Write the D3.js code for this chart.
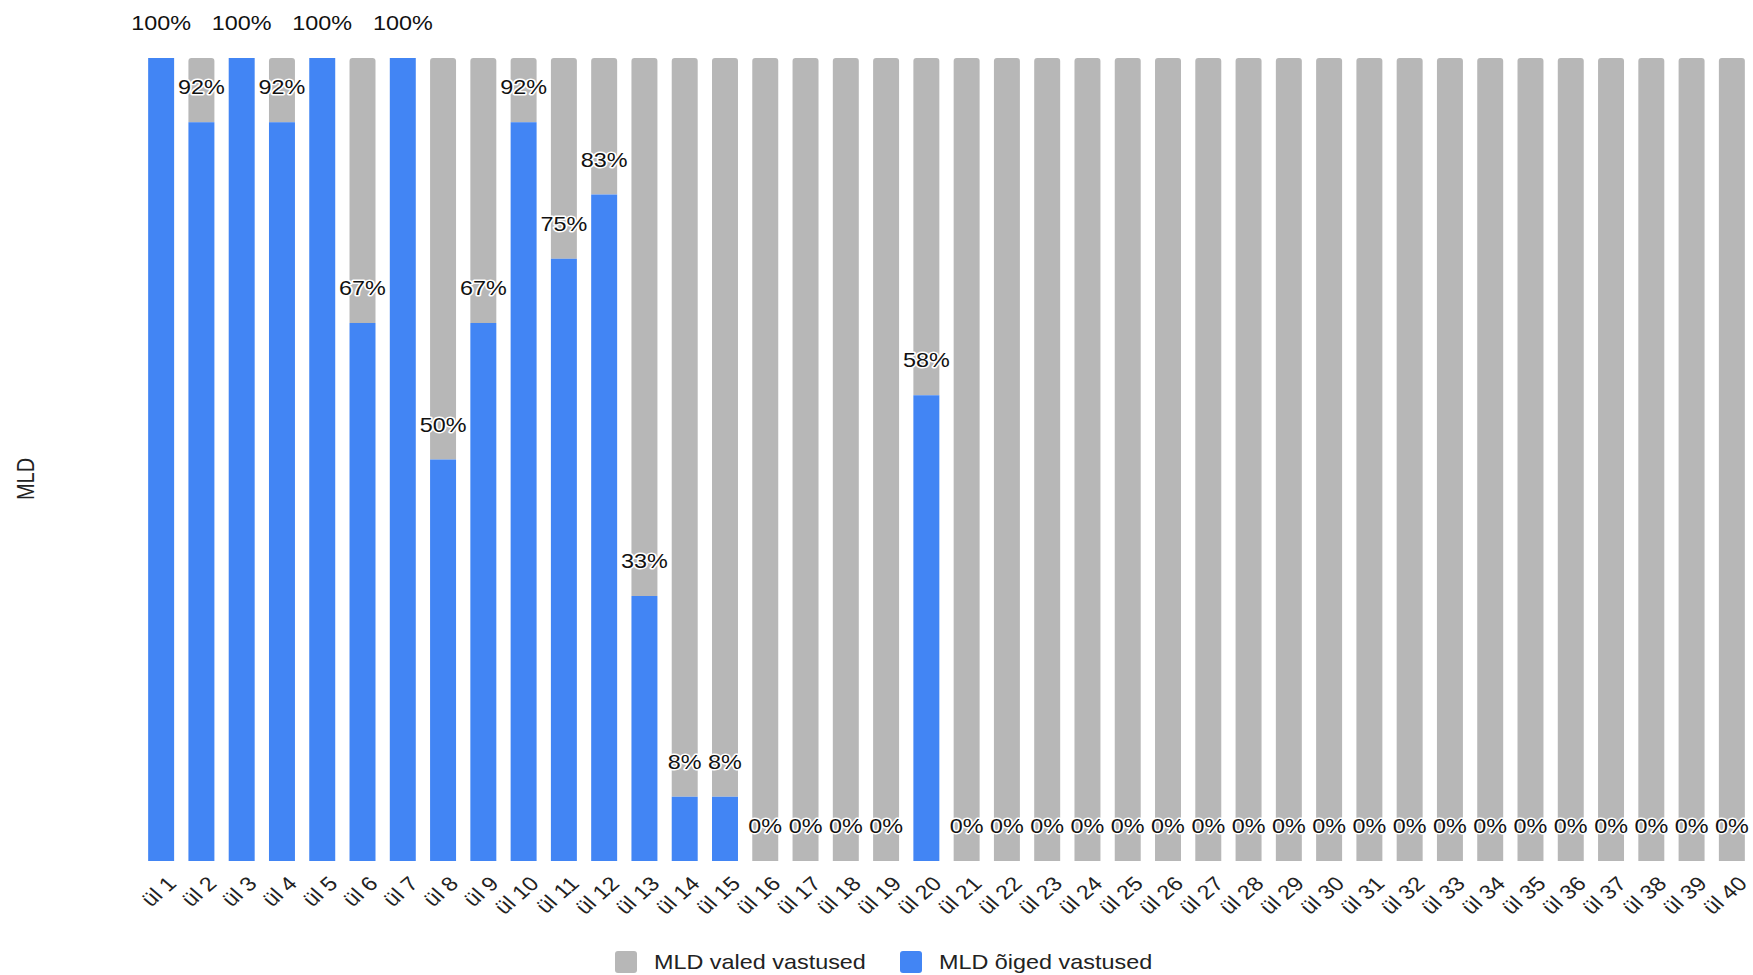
<!DOCTYPE html>
<html>
<head>
<meta charset="utf-8">
<script src="https://cdn.jsdelivr.net/npm/d3@7"></script>
<style>
  html, body { margin: 0; padding: 0; background: #fff; }
  svg { display: block; font-family: "Liberation Sans", Arial, sans-serif; }
</style>
</head>
<body>
<svg id="chart" width="1753" height="975"></svg>
<script>
// Exercise labels (ül = ülesanne)
const categories = d3.range(1, 41).map(i => "ül " + i);
// Share of correct answers per exercise, percent
const correct = [100, 92, 100, 92, 100, 67, 100, 50, 67, 92,
                 75, 83, 33, 8, 8, 0, 0, 0, 0, 58,
                 0, 0, 0, 0, 0, 0, 0, 0, 0, 0,
                 0, 0, 0, 0, 0, 0, 0, 0, 0, 0];
// Share of wrong answers is the remainder
const wrong = correct.map(v => 100 - v);
const seriesNames = ["MLD valed vastused", "MLD õiged vastused"];
const colors = { wrong: "#b7b7b7", correct: "#4285f4" };

const W = 1753, H = 975;
const plot = { left: 141, right: 1752, top: 58, bottom: 861 };
const TX = 1.17; // horizontal text stretch
const FS = 20;

const svg = d3.select("#chart");

const x = d3.scaleBand()
  .domain(categories)
  .range([plot.left, plot.right])
  .paddingInner(0.355)
  .paddingOuter(0.1775);

const y = d3.scaleLinear().domain([0, 100]).range([plot.bottom, plot.top]);

const rows = categories.map((c, i) => ({ cat: c, correct: correct[i], wrong: wrong[i] }));

// Grey segment (wrong) on top with rounded upper corners
function roundedTop(x0, y0, w, h, r) {
  r = Math.min(r, h, w / 2);
  return `M${x0},${y0 + h}V${y0 + r}Q${x0},${y0} ${x0 + r},${y0}H${x0 + w - r}Q${x0 + w},${y0} ${x0 + w},${y0 + r}V${y0 + h}Z`;
}

const g = svg.append("g");

g.selectAll("path.wrong")
  .data(rows.filter(d => d.wrong > 0))
  .join("path")
  .attr("class", "wrong")
  .attr("fill", colors.wrong)
  .attr("d", d => {
    const y0 = y(100), y1 = y(d.correct);
    return roundedTop(x(d.cat), y0, x.bandwidth(), y1 - y0, 3);
  });

g.selectAll("rect.correct")
  .data(rows.filter(d => d.correct > 0))
  .join("rect")
  .attr("class", "correct")
  .attr("fill", colors.correct)
  .attr("x", d => x(d.cat))
  .attr("width", x.bandwidth())
  .attr("y", d => y(d.correct))
  .attr("height", d => y(0) - y(d.correct));

// Value labels above the correct-answer segment
g.selectAll("text.val")
  .data(rows)
  .join("text")
  .attr("class", "val")
  .attr("transform", d => `translate(${x(d.cat) + x.bandwidth() / 2},${y(d.correct) - 28}) scale(${TX},1)`)
  .attr("text-anchor", "middle")
  .attr("font-size", FS)
  .attr("fill", "#111")
  .attr("stroke", "#fff")
  .attr("stroke-width", 3)
  .attr("stroke-linejoin", "round")
  .attr("paint-order", "stroke")
  .text(d => d.correct + "%");

// Category axis labels, rotated
g.selectAll("text.cat")
  .data(categories)
  .join("text")
  .attr("class", "cat")
  .attr("transform", d => `translate(${x(d) + x.bandwidth() / 2 + 5},${plot.bottom + 14}) scale(${TX},1) rotate(-45)`)
  .attr("text-anchor", "end")
  .attr("dy", "0.7em")
  .attr("font-size", FS)
  .attr("fill", "#222")
  .text(d => d);

// Vertical axis title
svg.append("text")
  .attr("transform", `translate(34,479) scale(${TX},1) rotate(-90)`)
  .attr("text-anchor", "middle")
  .attr("font-size", FS)
  .attr("fill", "#222")
  .text("MLD");

// Legend
const legend = svg.append("g");
const legendItems = [
  { name: seriesNames[0], color: colors.wrong, x: 615 },
  { name: seriesNames[1], color: colors.correct, x: 900 }
];
legendItems.forEach(it => {
  legend.append("rect")
    .attr("x", it.x).attr("y", 951)
    .attr("width", 22).attr("height", 22)
    .attr("rx", 3)
    .attr("fill", it.color);
  legend.append("text")
    .attr("transform", `translate(${it.x + 39},969) scale(${TX},1)`)
    .attr("font-size", FS)
    .attr("fill", "#222")
    .text(it.name);
});
</script>
</body>
</html>
